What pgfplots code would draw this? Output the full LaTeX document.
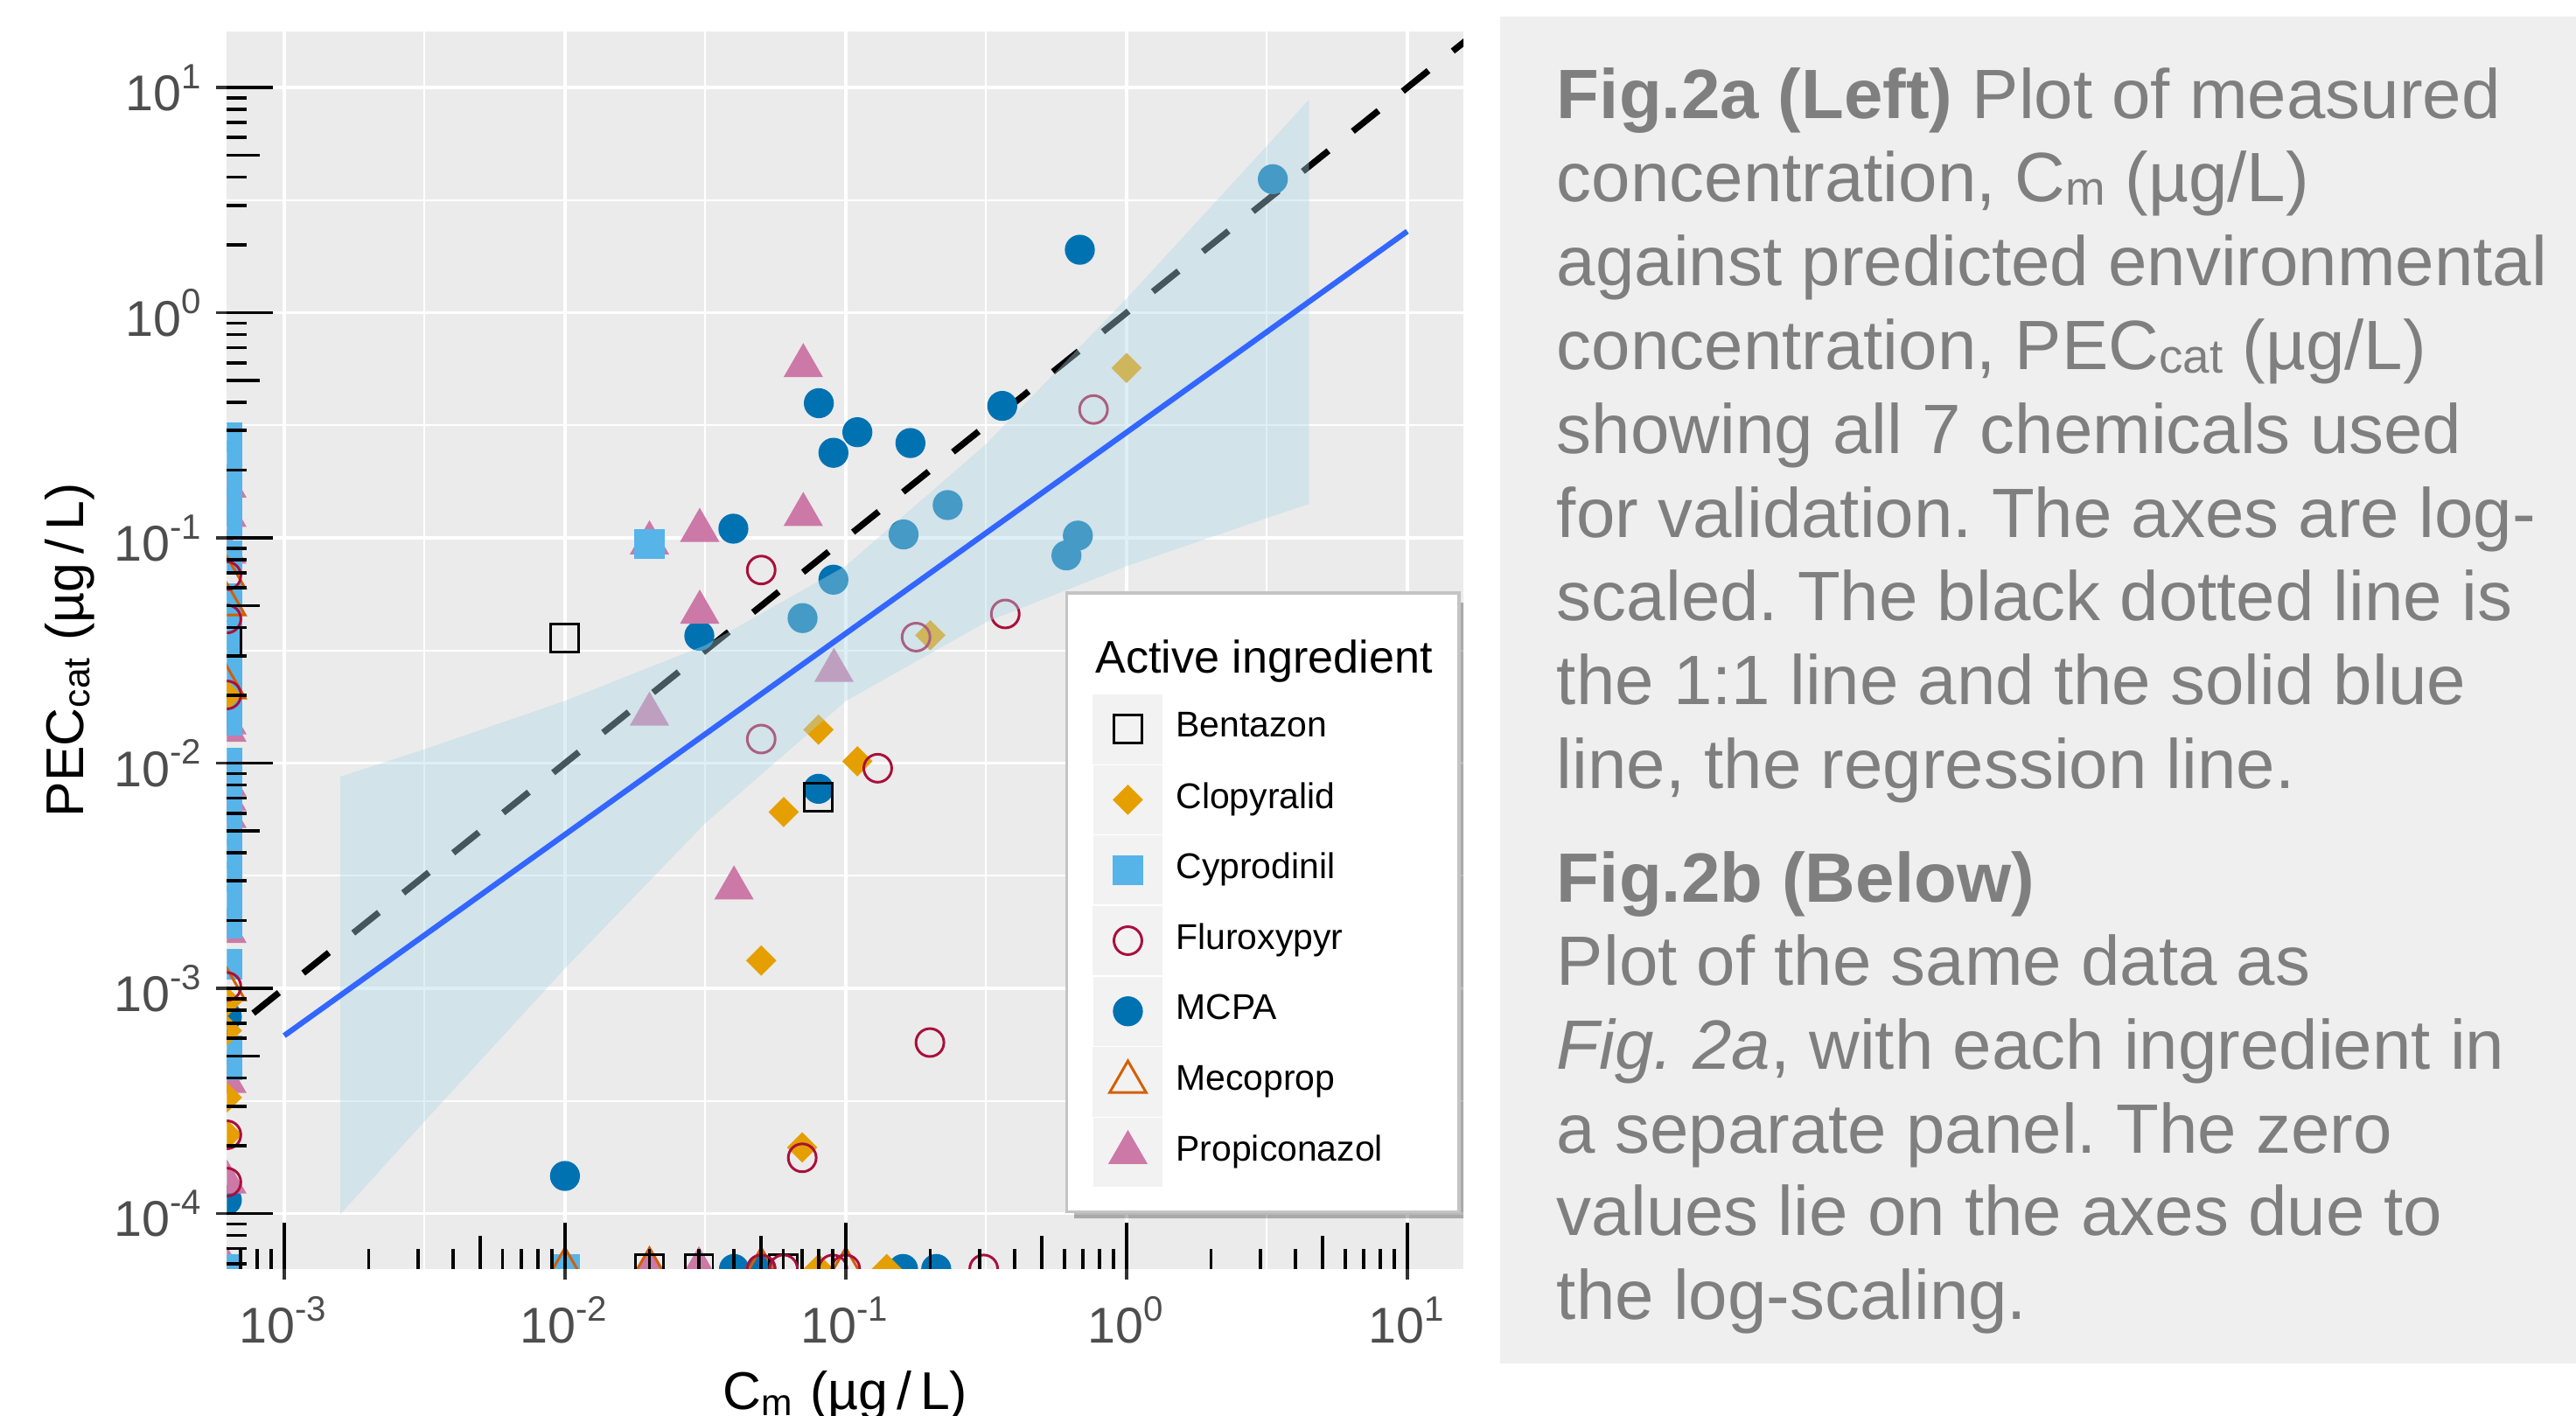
\documentclass[border=0pt]{standalone}
\usepackage{fontspec}
\setmainfont{Liberation Sans}
\usepackage{pgfplots}
\pgfplotsset{compat=1.18}
\frenchspacing

\definecolor{panelbg}{HTML}{EBEBEB}
\definecolor{capbg}{HTML}{EFEFEF}
\definecolor{captext}{HTML}{7F7F7F}
\definecolor{ticklab}{HTML}{4D4D4D}
\definecolor{keybg}{HTML}{F2F2F2}
\definecolor{legborder}{HTML}{C4C4C4}
\definecolor{ribbon}{HTML}{ADD8E6}
\definecolor{regblue}{HTML}{3366FF}
\definecolor{cbent}{HTML}{000000}
\definecolor{cclop}{HTML}{E69F00}
\definecolor{ccypr}{HTML}{56B4E9}
\definecolor{cflur}{HTML}{AA0F3C}
\definecolor{cmcpa}{HTML}{0072B2}
\definecolor{cmeco}{HTML}{D55E00}
\definecolor{cprop}{HTML}{CC79A7}

\tikzset{
  pbent/.style={mark=square, mark size=0.85mm, color=cbent, line width=0.45pt},
  pclop/.style={mark=square*, mark size=0.6mm, mark options={rotate=45}, color=cclop, line width=0.3pt},
  pcypr/.style={mark=square*, mark size=0.86mm, color=ccypr, line width=0.3pt},
  pflur/.style={mark=o, mark size=0.85mm, color=cflur, line width=0.45pt},
  pmcpa/.style={mark=*, mark size=0.86mm, color=cmcpa, line width=0.3pt},
  pmeco/.style={mark=triangle, mark size=1.28mm, color=cmeco, line width=0.45pt},
  pprop/.style={mark=triangle*, mark size=1.28mm, color=cprop, line width=0.3pt},
}
\newcommand\subs[1]{\raisebox{-0.6pt}{\fontsize{8.3}{8.3}\selectfont #1}}

\begin{document}
\begin{tikzpicture}
\useasboundingbox (0,0) rectangle (156.8mm,86.15mm);

% caption panel
\fill[capbg] (91.3mm,3.15mm) rectangle (158mm,85.16mm);
\begin{scope}[every node/.style={anchor=base west, inner sep=0pt, text=captext, font=\fontsize{12.1}{14.5}\selectfont}]
\node at (94.7mm,78.95mm) {\textbf{Fig.2a (Left)} Plot of measured};
\node at (94.7mm,73.85mm) {concentration, C\subs{m} (µg/L)};
\node at (94.7mm,68.75mm) {against predicted environmental};
\node at (94.7mm,63.65mm) {concentration, PEC\subs{cat} (µg/L)};
\node at (94.7mm,58.55mm) {showing all 7 chemicals used};
\node at (94.7mm,53.45mm) {for validation. The axes are log-};
\node at (94.7mm,48.35mm) {scaled. The black dotted line is};
\node at (94.7mm,43.25mm) {the 1:1 line and the solid blue};
\node at (94.7mm,38.15mm) {line, the regression line.};
\node at (94.7mm,31.25mm) {\textbf{Fig.2b (Below)}};
\node at (94.7mm,26.15mm) {Plot of the same data as};
\node at (94.7mm,21.05mm) {\textit{Fig. 2a}, with each ingredient in};
\node at (94.7mm,15.95mm) {a separate panel. The zero};
\node at (94.7mm,10.95mm) {values lie on the axes due to};
\node at (94.7mm,5.85mm) {the log-scaling.};
\end{scope}

\begin{axis}[
  width=75.27mm, height=75.35mm, scale only axis,
  at={(13.81mm,8.90mm)}, anchor=south west,
  xmode=log, ymode=log,
  xmin=6.25e-4, xmax=15.85, ymin=5.68e-5, ymax=17.8,
  axis background/.style={fill=panelbg},
  axis line style={draw=none},
  xtick={1e-3,1e-2,1e-1,1,10},
  ytick={1e-4,1e-3,1e-2,1e-1,1,10},
  minor xtick={3.162e-3,3.162e-2,0.3162,3.162},
  minor ytick={3.162e-4,3.162e-3,3.162e-2,0.3162,3.162},
  xticklabels={10\textsuperscript{-3},10\textsuperscript{-2},10\textsuperscript{-1},10\textsuperscript{0},10\textsuperscript{1}},
  yticklabels={10\textsuperscript{-4},10\textsuperscript{-3},10\textsuperscript{-2},10\textsuperscript{-1},10\textsuperscript{0},10\textsuperscript{1}},
  grid=both,
  major grid style={white, line width=0.55pt},
  minor grid style={white, line width=0.28pt},
  tick align=outside, xtick pos=bottom, ytick pos=left,
  major tick length=0.67mm, minor tick length=0pt,
  major tick style={color=black!80, line width=0.55pt},
  tick label style={font=\fontsize{8.7}{10}\selectfont, text=ticklab},
  yticklabel style={inner sep=0pt, xshift=-0.64mm},
  xticklabel style={inner sep=0pt, yshift=-0.94mm},
  clip marker paths=true,
  legend cell align=left,
  legend style={at={(0.9976,0.045)}, anchor=south east, draw=legborder, fill=white,
    line width=0.5pt,
    inner xsep=1.6mm, inner ysep=1.5mm, row sep=0.07mm,
    nodes={inner xsep=0pt},
    font=\fontsize{6.2}{7.4}\selectfont,
    /tikz/every odd column/.append style={column sep=0.8mm}},
  legend image code/.code={%
    \fill[keybg] (0mm,-2.05mm) rectangle (4.1mm,2.05mm);
    \draw[#1, only marks] plot coordinates {(2.05mm,0mm)};
  },
]
% legend
\addlegendimage{empty legend}
\addlegendentry{\hspace*{-4.9mm}\fontsize{7.9}{9.5}\selectfont Active ingredient\rule[-1.1mm]{0pt}{3.75mm}}
\addlegendimage{pbent}\addlegendentry{Bentazon}
\addlegendimage{pclop}\addlegendentry{Clopyralid}
\addlegendimage{pcypr}\addlegendentry{Cyprodinil}
\addlegendimage{pflur}\addlegendentry{Fluroxypyr}
\addlegendimage{pmcpa}\addlegendentry{MCPA}
\addlegendimage{pmeco}\addlegendentry{Mecoprop}
\addlegendimage{pprop}\addlegendentry{Propiconazol}

% 1:1 line
\addplot[forget plot, black, line width=1.1pt, dash pattern=on 2mm off 1.9mm]
  coordinates {(1e-4,1e-4) (20,20)};

% MCPA
\addplot[forget plot, only marks, pmcpa] coordinates {
  (3.32,3.92) (0.682,1.905) (0.0802,0.397) (0.110,0.295) (0.0904,0.239)
  (0.170,0.264) (0.361,0.386) (0.0398,0.110) (0.1607,0.1037) (0.2307,0.140)
  (0.671,0.1025) (0.611,0.0837) (0.0904,0.0653) (0.0301,0.0368) (0.0702,0.0441)
  (0.080,0.0077) (0.01,1.47e-4)
  (0.04,5.68e-5) (0.05,5.68e-5) (0.16,5.68e-5) (0.21,5.68e-5)
  (6.25e-4,7.5e-4) (6.25e-4,1.15e-4)
};
% Propiconazol
\addplot[forget plot, only marks, pprop] coordinates {
  (0.0706,0.582) (0.0706,0.127) (0.0302,0.108) (0.02,0.095) (0.0302,0.0468)
  (0.0908,0.0258) (0.020,0.0165) (0.040,0.00279)
  (0.02,5.68e-5) (0.03,5.68e-5) (6.25e-4,5.68e-5)
  (6.25e-4,0.17) (6.25e-4,0.126) (6.25e-4,0.0865) (6.25e-4,0.0151) (6.25e-4,0.0140)
  (6.25e-4,0.0080) (6.25e-4,0.0069) (6.25e-4,0.0058) (6.25e-4,0.00179)
  (6.25e-4,3.86e-4) (6.25e-4,1.38e-4)
};
% Cyprodinil
\addplot[forget plot, only marks, pcypr] coordinates {
  (0.02,0.0938) (0.01,5.68e-5) (6.25e-4,5.68e-5)
  (6.25e-4,0.280) (6.25e-4,0.231) (6.25e-4,0.181) (6.25e-4,0.142) (6.25e-4,0.117)
  (6.25e-4,0.0834) (6.25e-4,0.054) (6.25e-4,0.0492) (6.25e-4,0.037) (6.25e-4,0.0316)
  (6.25e-4,0.0242) (6.25e-4,0.0168) (6.25e-4,0.0154) (6.25e-4,0.01007) (6.25e-4,0.00824)
  (6.25e-4,0.00647) (6.25e-4,0.00507) (6.25e-4,0.00398) (6.25e-4,0.00313)
  (6.25e-4,0.00245) (6.25e-4,0.00195) (6.25e-4,1.28e-3) (6.25e-4,5.32e-4) (6.25e-4,4.55e-4)
};
% Mecoprop
\addplot[forget plot, only marks, pmeco] coordinates {
  (0.01,5.68e-5) (0.02,5.68e-5) (0.05,5.68e-5) (0.1,5.68e-5)
  (6.25e-4,0.0667) (6.25e-4,0.0507) (6.25e-4,0.0217) (6.25e-4,9.9e-4)
};
% Bentazon
\addplot[forget plot, only marks, pbent] coordinates {
  (0.01,0.0361) (0.080,0.00704)
  (0.02,5.68e-5) (0.03,5.68e-5) (0.06,5.68e-5) (6.25e-4,0.0348)
};
% Clopyralid
\addplot[forget plot, only marks, pclop] coordinates {
  (1.0,0.569) (0.2,0.037) (0.080,0.0141) (0.110,0.0102) (0.0601,0.00607)
  (0.050,0.00133) (0.070,1.97e-4)
  (0.08,5.68e-5) (0.14,5.68e-5)
  (6.25e-4,0.02) (6.25e-4,8.75e-4) (6.25e-4,6.5e-4) (6.25e-4,3.28e-4) (6.25e-4,2.24e-4)
};
% Fluroxypyr
\addplot[forget plot, only marks, pflur] coordinates {
  (0.050,0.0721) (0.763,0.372) (0.178,0.0363) (0.370,0.046) (0.050,0.0128)
  (0.130,0.0095) (0.1995,5.75e-4) (0.070,1.77e-4)
  (0.05,5.68e-5) (0.06,5.68e-5) (0.09,5.68e-5) (0.1,5.68e-5) (0.31,5.68e-5)
  (6.25e-4,0.068) (6.25e-4,0.0437) (6.25e-4,0.0201) (6.25e-4,1.02e-3)
  (6.25e-4,2.24e-4) (6.25e-4,1.38e-4)
};

% confidence band of the fit
\addplot[forget plot, draw=none, fill=ribbon, fill opacity=0.4] coordinates {
  (1.585e-3,8.71e-3) (3.162e-3,1.153e-2) (0.01,1.892e-2) (0.03162,3.342e-2)
  (0.1,7.52e-2) (0.3162,0.2612) (1,1.156) (3.162,5.508) (4.467,8.85)
  (4.467,0.1416) (3.162,0.1227) (1,7.50e-2) (0.3162,4.236e-2) (0.1,1.888e-2)
  (0.03162,5.42e-3) (0.01,1.227e-3) (3.162e-3,2.570e-4) (1.585e-3,9.95e-5)
} -- cycle;
% regression line
\addplot[forget plot, regblue, line width=0.95pt] coordinates {(1e-3,6.17e-4) (10,2.30)};

% soft shadow behind the legend box
\fill[black, opacity=0.28] (rel axis cs:0.6855,0.0408) rectangle (rel axis cs:1.0012,0.5385);
\end{axis}

% log tick annotations inside the panel
\begin{axis}[
  width=75.27mm, height=75.35mm, scale only axis,
  at={(13.81mm,8.90mm)}, anchor=south west,
  xmode=log, ymode=log,
  xmin=6.25e-4, xmax=15.85, ymin=5.68e-5, ymax=17.8,
  axis line style={draw=none},
  xtick={1e-3,1e-2,1e-1,1,10},
  ytick={1e-4,1e-3,1e-2,1e-1,1,10},
  minor xtick={7e-4,8e-4,9e-4,2e-3,3e-3,4e-3,6e-3,7e-3,8e-3,9e-3,
    2e-2,3e-2,4e-2,6e-2,7e-2,8e-2,9e-2,0.2,0.3,0.4,0.6,0.7,0.8,0.9,2,3,4,6,7,8,9},
  minor ytick={6e-5,7e-5,8e-5,9e-5,2e-4,3e-4,4e-4,6e-4,7e-4,8e-4,9e-4,
    2e-3,3e-3,4e-3,6e-3,7e-3,8e-3,9e-3,2e-2,3e-2,4e-2,6e-2,7e-2,8e-2,9e-2,
    0.2,0.3,0.4,0.6,0.7,0.8,0.9,2,3,4,6,7,8,9},
  extra x ticks={5e-3,5e-2,0.5,5},
  extra y ticks={5e-4,5e-3,5e-2,0.5,5},
  extra x tick labels={}, extra y tick labels={},
  extra tick style={grid=none, major tick length=2mm},
  xticklabels={}, yticklabels={},
  grid=none,
  tick align=inside, xtick pos=bottom, ytick pos=left,
  major tick length=2.8mm, minor tick length=1.2mm,
  tick style={black, line width=0.55pt},
]
\end{axis}

% axis titles
\node[rotate=90, anchor=base, inner sep=0pt, font=\fontsize{9.2}{11}\selectfont]
  at (5.06mm,46.58mm) {PEC\textsubscript{cat} (µg\,/\,L)};
\node[anchor=base, inner sep=0pt, font=\fontsize{9.2}{11}\selectfont]
  at (51.45mm,0.35mm) {C\textsubscript{m} (µg\,/\,L)};
\end{tikzpicture}
\end{document}
